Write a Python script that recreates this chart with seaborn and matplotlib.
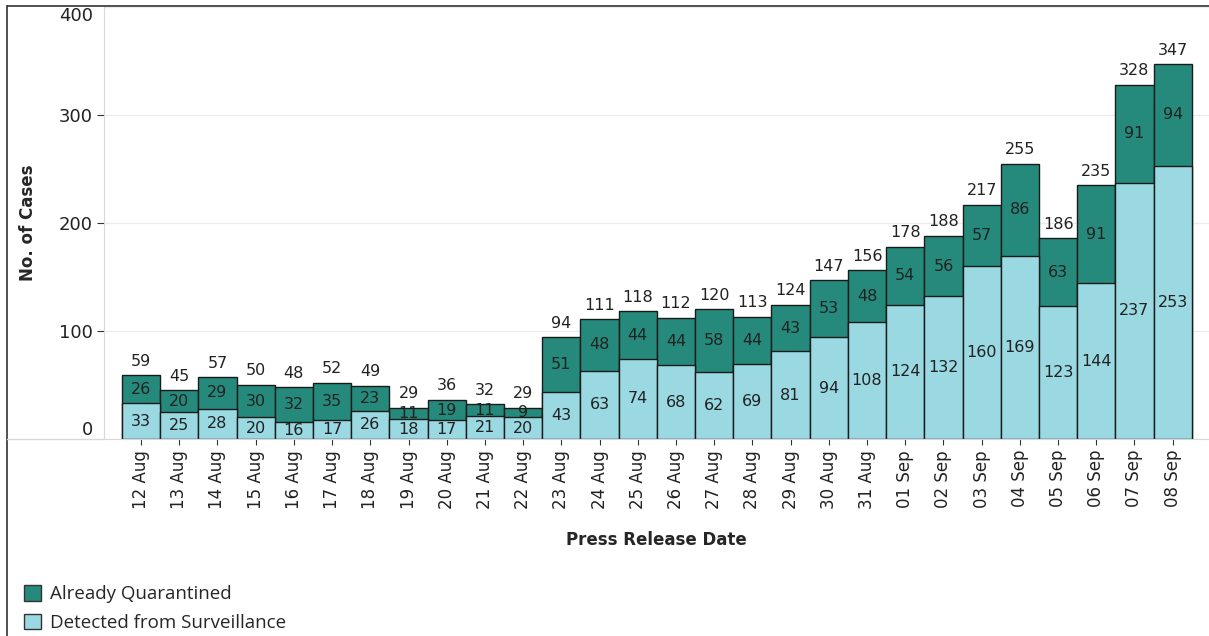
import matplotlib
matplotlib.use("Agg")
import matplotlib.pyplot as plt
import seaborn as sns
import pandas as pd
from matplotlib.patches import Patch
from matplotlib.lines import Line2D

datas = ["12 Aug", "13 Aug", "14 Aug", "15 Aug", "16 Aug", "17 Aug", "18 Aug",
         "19 Aug", "20 Aug", "21 Aug", "22 Aug", "23 Aug", "24 Aug", "25 Aug",
         "26 Aug", "27 Aug", "28 Aug", "29 Aug", "30 Aug", "31 Aug", "01 Sep",
         "02 Sep", "03 Sep", "04 Sep", "05 Sep", "06 Sep", "07 Sep", "08 Sep"]
vigilancia = [33, 25, 28, 20, 16, 17, 26, 18, 17, 21, 20, 43, 63, 74, 68, 62,
              69, 81, 94, 108, 124, 132, 160, 169, 123, 144, 237, 253]
quarentena = [26, 20, 29, 30, 32, 35, 23, 11, 19, 11, 9, 51, 48, 44, 44, 58,
              44, 43, 53, 48, 54, 56, 57, 86, 63, 91, 91, 94]

df = pd.DataFrame({"data": datas, "vigilancia": vigilancia, "quarentena": quarentena})
df["total"] = df["vigilancia"] + df["quarentena"]

cor_escura = "#258A7B"
cor_clara = "#9AD8E2"

sns.set_style("white")
plt.rcParams["font.family"] = ["DejaVu Sans"]

fig = plt.figure(figsize=(12.09, 6.36), dpi=100)
ax = fig.add_axes([0.086, 0.31, 0.914, 0.679])

sns.barplot(data=df, x="data", y="total", color=cor_escura, width=1.0,
            edgecolor="#1a1a1a", linewidth=1.0, saturation=1, ax=ax)
sns.barplot(data=df, x="data", y="vigilancia", color=cor_clara, width=1.0,
            edgecolor="#1a1a1a", linewidth=1.0, saturation=1, ax=ax)

# rotulos
for i, row in df.iterrows():
    ax.text(i, row["vigilancia"] / 2, str(row["vigilancia"]), ha="center", va="center",
            fontsize=11.5, color="#222222")
    ax.text(i, row["vigilancia"] + row["quarentena"] / 2, str(row["quarentena"]),
            ha="center", va="center", fontsize=11.5, color="#222222")
    ax.text(i, row["total"] + 6, str(row["total"]), ha="center", va="bottom",
            fontsize=11.5, color="#222222")

ax.set_ylim(0, 400)
ax.set_xlim(-0.97, 27.95)
ax.set_yticks([0, 100, 200, 300, 400])
ax.set_yticklabels(["0", "100", "200", "300", "400"], fontsize=13, color="#222222")
ax.yaxis.grid(True, color="#ececec", linewidth=1)
ax.set_axisbelow(True)
ax.tick_params(axis="y", left=True, length=5, color="#333333", pad=3)
ax.tick_params(axis="x", bottom=True, length=4, color="#333333", labelsize=12,
               labelrotation=90, pad=4)
for lbl in ax.get_xticklabels():
    lbl.set_color("#222222")
# 0 e 400 sem traço, rótulos puxados para dentro
yt = ax.yaxis.get_major_ticks()
yt[0].tick1line.set_visible(False)
yt[-1].tick1line.set_visible(False)
yt[0].label1.set_va("bottom")
yt[-1].label1.set_va("top")

for s in ["top", "right"]:
    ax.spines[s].set_visible(False)
ax.spines["left"].set_color("#d8d8d8")
ax.spines["bottom"].set_color("#d8d8d8")

ax.set_xlabel("Press Release Date", fontsize=12, fontweight="bold", labelpad=16)
ax.set_ylabel("No. of Cases", fontsize=12, fontweight="bold", labelpad=16)

# moldura
fig.add_artist(Line2D([0.0058, 1.0], [0.9906, 0.9906], color="#333333", linewidth=1.2))
fig.add_artist(Line2D([0.0058, 0.0058], [0.0, 0.9906], color="#333333", linewidth=1.2))
fig.add_artist(Line2D([0.0058, 0.086], [0.31, 0.31], color="#d8d8d8", linewidth=1))

handles = [Patch(facecolor=cor_escura, edgecolor="#333333", label="Already Quarantined"),
           Patch(facecolor=cor_clara, edgecolor="#333333", label="Detected from Surveillance")]
fig.legend(handles=handles, loc="lower left", bbox_to_anchor=(0.006, -0.02), frameon=False,
           handlelength=0.9, handleheight=0.9, handletextpad=0.5,
           labelspacing=0.55, prop={"family": "Open Sans", "size": 13.5})

fig.savefig("out.png", dpi=100)
